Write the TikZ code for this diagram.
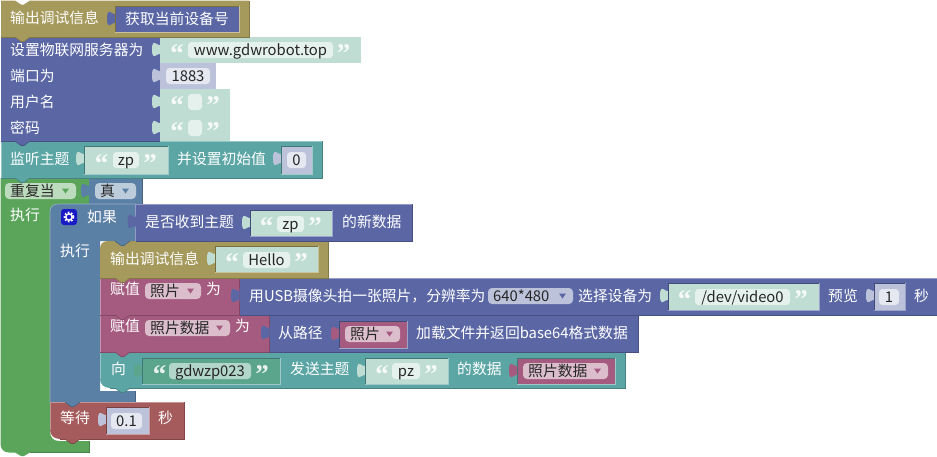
\documentclass[tikz,border=0pt]{standalone}
\usepackage{fontspec}
\setmainfont{Noto Sans CJK SC}
\newfontfamily\qfont{Liberation Serif}
\definecolor{cOlive}{HTML}{A5995B}
\definecolor{cBlue}{HTML}{5B67A5}
\definecolor{cTeal}{HTML}{5BA5A5}
\definecolor{cGreen}{HTML}{5BA55B}
\definecolor{cSteel}{HTML}{5B80A5}
\definecolor{cPink}{HTML}{A55B80}
\definecolor{cRed}{HTML}{A55B5B}
\definecolor{cTxtV}{HTML}{BFDDD3}
\definecolor{cNumV}{HTML}{BDC2DB}
\definecolor{cDkTxt}{HTML}{5BA58C}
\definecolor{cFldT}{HTML}{E5F1ED}
\definecolor{cFldN}{HTML}{E5E7F1}
\definecolor{cFldD}{HTML}{B3D6CA}
\definecolor{cDdG}{HTML}{BDDBBD}
\definecolor{cDdS}{HTML}{BDCCDB}
\definecolor{cDdP}{HTML}{DBBDCC}
\definecolor{cDdB}{HTML}{BDC2DB}
\tikzset{
  wlabel/.style={anchor=base west,inner sep=0pt,text=white,font=\fontsize{14.8}{15}\selectfont},
  blabel/.style={anchor=base west,inner sep=0pt,text=black!85,font=\fontsize{14.8}{15}\selectfont},
  flabel/.style={anchor=base,inner sep=0pt,text=black!85,font=\fontsize{14.8}{15}\selectfont},
  qmark/.style={anchor=base,inner sep=0pt,font=\qfont\bfseries\fontsize{27}{27}\selectfont},
}
% block rectangle: x1 y1 x2 y2 colour
\newcommand{\bk}[5]{%
  \fill[#5] (#1,#2) rectangle (#3,#4);
  \draw[#5!78!black,line width=.8pt] (#1,#4) -- (#3,#4) -- (#3,#2);
  \draw[#5!65!white,line width=.6pt] (#1,#4) -- (#1,#2) -- (#3,#2);
}
% puzzle tab: x y colour
\newcommand{\tabp}[3]{%
  \fill[#3] (#1+.5,#2+5) .. controls (#1+.5,#2+15) and (#1-8,#2-3) .. (#1-8,#2+12.5)
    .. controls (#1-8,#2+28) and (#1+.5,#2+10) .. (#1+.5,#2+20) -- cycle;
}
% inline value: x1 y1 x2 y2 colour parent
\newcommand{\inl}[6]{%
  \fill[#5] (#1,#2) rectangle (#3,#4);
  \tabp{#1}{#2}{#5}
  \draw[#6!72!black,line width=.8pt] (#1,#4) -- (#1,#2) -- (#3,#2);
  \draw[#6!60!white,line width=.8pt] (#1,#4) -- (#3,#4) -- (#3,#2);
}
% external value: x1 y1 x2 y2 colour
\newcommand{\ext}[5]{%
  \fill[#5] (#1,#2) rectangle (#3,#4);
  \tabp{#1}{#2}{#5}
}
% field: name x1 x2 yc colour text
\newcommand{\fld}[6]{%
  \fill[#5,rounded corners=3.5pt] (#2,#4-8) rectangle (#3,#4+8);
  \node[flabel] (#1) at ({(#2+#3)/2},#4+5.5) {#6};
}
% quotes around a field: name xleft xright yc colour
\newcommand{\qt}[5]{%
  \node[qmark,text=#5] (#1l) at (#2,#4+12.5) {“};
  \node[qmark,text=#5] (#1r) at (#3,#4+12.5) {”};
}
% dropdown: name x1 x2 yc colour arrowcolour text
\newcommand{\dd}[7]{%
  \fill[#5,rounded corners=4pt] (#2,#4-8) rectangle (#3,#4+8);
  \node[blabel] (#1) at (#2+5,#4+5.5) {#7};
  \fill[#6] (#3-14,#4-2.5) -- (#3-7,#4-2.5) -- (#3-10.5,#4+2.5) -- cycle;
}
% next-statement notch: x y colour
\newcommand{\nt}[3]{%
  \fill[#3] (#1,#2) -- (#1+6,#2+4.5) -- (#1+9,#2+4.5) -- (#1+15,#2) -- cycle;
  \draw[#3!78!black,line width=.6pt] (#1,#2) -- (#1+6,#2+4.5) -- (#1+9,#2+4.5) -- (#1+15,#2);
}
\begin{document}
\begin{tikzpicture}[x=1pt,y=-1pt]
\useasboundingbox (0,0) rectangle (937,456);
\fill[white] (0,0) rectangle (937,456);

% ---- repeat block (green C)
\fill[cGreen] (0.5,178) -- (89,178) -- (89,204) -- (58,204) .. controls (53,204) and (50,207) .. (50,212)
  -- (50,431) .. controls (50,437) and (53,441) .. (59,441) -- (89,441) -- (89,452.5)
  -- (30,452.5) -- (24,456) -- (21,456) -- (15,452.5) -- (9,452.5) .. controls (4,452.5) and (0.5,449) .. (0.5,444) -- cycle;
\draw[cGreen!78!black,line width=.7pt] (89,441) -- (89,452.5) -- (30,452.5);
\draw[cGreen!78!black,line width=.7pt] (89,178) -- (89,204);
% value true
\ext{89}{178}{142}{204}{cSteel}
\draw[cSteel!78!black,line width=.7pt] (142,178) -- (142,204) -- (135,204);

% ---- if block (steel C)
\fill[cSteel] (50,212) .. controls (50,207) and (53,204) .. (58,204) -- (135.5,204) -- (135.5,241)
  -- (100,241) -- (100,391) -- (135.5,391) -- (135.5,402) -- (50,402) -- cycle;
\draw[cSteel!78!black,line width=.7pt] (135.5,391) -- (135.5,402) -- (50,402);
\draw[cSteel!65!white,line width=.6pt] (50,402) -- (50,212) .. controls (50,207) and (53,204) .. (58,204) -- (135.5,204);

% ---- wait block
\fill[cRed] (50,402) -- (184,402) -- (184,439) -- (60,439) .. controls (54,439) and (50,435) .. (50,430) -- cycle;
\draw[cRed!78!black,line width=.7pt] (60,439) -- (184,439) -- (184,402);
\draw[cRed!65!white,line width=.6pt] (50,430) -- (50,402) -- (184,402);
\inl{106}{407}{149}{434}{cNumV}{cRed}
\fld{tWaitN}{111}{142}{421}{cFldN}{0.1}
\node[wlabel] (tWait) at (60,423.5) {等待};
\node[wlabel] (tWaitS) at (158,423.5) {秒};
\nt{65}{439}{cRed}
\nt{65}{402}{cSteel}

% ---- teal send block
\fill[cTeal] (100,352) -- (625,352) -- (625,388) -- (110,388) .. controls (104,388) and (100,384) .. (100,379) -- cycle;
\draw[cTeal!78!black,line width=.7pt] (110,388) -- (625,388) -- (625,352);
\draw[cTeal!65!white,line width=.6pt] (100,379) -- (100,352);
\node[wlabel] (tTo) at (111,374) {向};
\inl{142}{358}{280}{384}{cDkTxt}{cTeal}
\qt{qA}{159.5}{262}{371}{white!85!cDkTxt}
\fld{tDev}{169}{251}{371}{cFldD}{gdwzp023}
\node[wlabel] (tSend) at (290,374) {发送主题};
\inl{365}{358}{448}{384}{cTxtV}{cTeal}
\qt{qB}{382}{431}{371}{white!85!cTxtV}
\fld{tPz}{392}{420}{371}{cFldT}{pz}
\node[wlabel] (tData) at (457,374) {的数据};
\inl{517}{358}{615}{384}{cPink}{cTeal}
\dd{tPhotoD2}{523}{608}{371}{cDdP}{cPink}{照片数据}
\nt{115}{388}{cTeal}

% ---- second assign block + value
\bk{269}{315}{638}{352}{cBlue}
\tabp{269}{320}{cBlue}
\node[wlabel] (tPath) at (278,338) {从路径};
\inl{339}{321}{407}{348}{cPink}{cBlue}
\dd{tPhoto3}{345}{400}{334}{cDdP}{cPink}{照片}
\node[wlabel] (tLoad) at (416,338) {加载文件并返回base64格式数据};
\bk{100}{315}{269}{352}{cPink}
\tabp{269}{320}{cBlue}
\dd{tPhotoD}{145}{230}{328}{cDdP}{cPink}{照片数据}
\node[wlabel] (tAssignB) at (110,331) {赋值};
\node[wlabel] (tForB) at (235,331) {为};
\nt{115}{352}{cPink}

% ---- first assign block + value
\bk{239}{278}{937}{315}{cBlue}
\node[wlabel] (tUsb) at (249,301) {用USB摄像头拍一张照片，分辨率为};
\dd{tRes}{488}{573}{296}{cDdB}{cBlue}{640*480}
\node[wlabel] (tSel) at (578,301) {选择设备为};
\inl{668}{283}{819}{310}{cTxtV}{cBlue}
\qt{qC}{684.5}{801}{296}{white!85!cTxtV}
\fld{tVideo}{695}{790}{297}{cFldT}{/dev/video0}
\node[wlabel] (tPrev) at (828,301) {预览};
\inl{874}{283}{905}{310}{cNumV}{cBlue}
\fld{tOne}{879}{899}{297}{cFldN}{1}
\node[wlabel] (tSec) at (914,301) {秒};
\bk{100}{278}{239}{315}{cPink}
\tabp{239}{283}{cBlue}
\node[wlabel] (tAssignA) at (110,294) {赋值};
\dd{tPhoto}{145}{201}{291}{cDdP}{cPink}{照片}
\node[wlabel] (tForA) at (206,294) {为};
\nt{115}{315}{cPink}

% ---- Hello block
\fill[cOlive] (100,249) .. controls (100,244) and (103,241) .. (108,241) -- (328,241) -- (328,278) -- (100,278) -- cycle;
\draw[cOlive!78!black,line width=.7pt] (100,278) -- (328,278) -- (328,241);
\node[wlabel] (tDbg2) at (110,264) {输出调试信息};
\inl{215}{246}{318}{272}{cTxtV}{cOlive}
\qt{qD}{232}{301}{259}{white!85!cTxtV}
\fld{tHello}{243}{290}{260}{cFldT}{Hello}
\nt{115}{278}{cOlive}
\nt{115}{241}{cSteel}

% ---- if condition
\bk{135.5}{204}{412}{241}{cBlue}
\tabp{135.5}{209}{cBlue}
\node[wlabel] (tCond) at (145,227) {是否收到主题};
\inl{250}{210}{332}{236}{cTxtV}{cBlue}
\qt{qE}{266.5}{315}{223}{white!85!cTxtV}
\fld{tZp2}{277}{304}{224}{cFldT}{zp}
\node[wlabel] (tNew) at (342,227) {的新数据};
\node[wlabel] (tIf) at (87,222) {如果};
\node[wlabel] (tDo2) at (60,256) {执行};
% gear
\fill[blue!75!black!90!white,rounded corners=3pt] (61,209) rectangle (77,225);
\draw[white,line width=1.5pt] (69,217) circle (3.2);
\draw[white,line width=1.6pt,dash pattern=on 1.6pt off 1.7pt] (69,217) circle (4.6);

% ---- repeat header
\dd{tRep}{5}{76}{191}{cDdG}{cGreen}{重复当}
\dd{tTrue}{95}{136}{191}{cDdS}{cSteel}{真}
\node[wlabel] (tDo1) at (10,220.5) {执行};

% ---- MQTT teal subscribe
\bk{1}{141}{322}{178}{cTeal}
\node[wlabel] (tSub) at (10,164) {监听主题};
\inl{84}{146}{168}{174}{cTxtV}{cTeal}
\qt{qF}{101.5}{150}{160}{white!85!cTxtV}
\fld{tZp1}{113}{139}{160}{cFldT}{zp}
\node[wlabel] (tInit) at (177,164) {并设置初始值};
\inl{281}{146}{312}{174}{cNumV}{cTeal}
\fld{tZero}{287}{306}{160}{cFldN}{0}
\nt{15}{178}{cTeal}

% ---- server block
\fill[cBlue] (1,37) rectangle (160,141);
\draw[cBlue!78!black,line width=.7pt] (1,141) -- (160,141);
\node[wlabel] (tSrv) at (10,55) {设置物联网服务器为};
\node[wlabel] (tPort) at (10,81) {端口为};
\node[wlabel] (tUser) at (10,107) {用户名};
\node[wlabel] (tPass) at (10,133) {密码};
\ext{160}{37}{361}{63}{cTxtV}
\qt{qG}{177}{343.5}{50}{white!85!cTxtV}
\fld{tHost}{188}{333}{50}{cFldT}{www.gdwrobot.top}
\ext{160}{63}{216}{89}{cNumV}
\fld{tPortN}{166}{210}{76}{cFldN}{1883}
\ext{160}{89}{230}{115}{cTxtV}
\qt{qH}{177}{213}{102}{white!85!cTxtV}
\fld{tUserV}{188}{202}{102}{cFldT}{}
\ext{160}{115}{230}{141}{cTxtV}
\qt{qI}{177}{213}{128}{white!85!cTxtV}
\fld{tPassV}{188}{202}{128}{cFldT}{}
\nt{15}{141}{cBlue}

% ---- first debug block
\fill[cOlive] (1,0.5) -- (15,0.5) -- (21,4.5) -- (24,4.5) -- (30,0.5) -- (249,0.5) -- (249,37) -- (1,37) -- cycle;
\draw[cOlive!78!black,line width=.7pt] (1,37) -- (249,37) -- (249,0.5);
\node[wlabel] (tDbg1) at (10,23) {输出调试信息};
\inl{115}{6}{239}{32}{cBlue}{cOlive}
\node[wlabel] (tDev1) at (125,24) {获取当前设备号};
\nt{15}{37}{cOlive}
\end{tikzpicture}
\end{document}
